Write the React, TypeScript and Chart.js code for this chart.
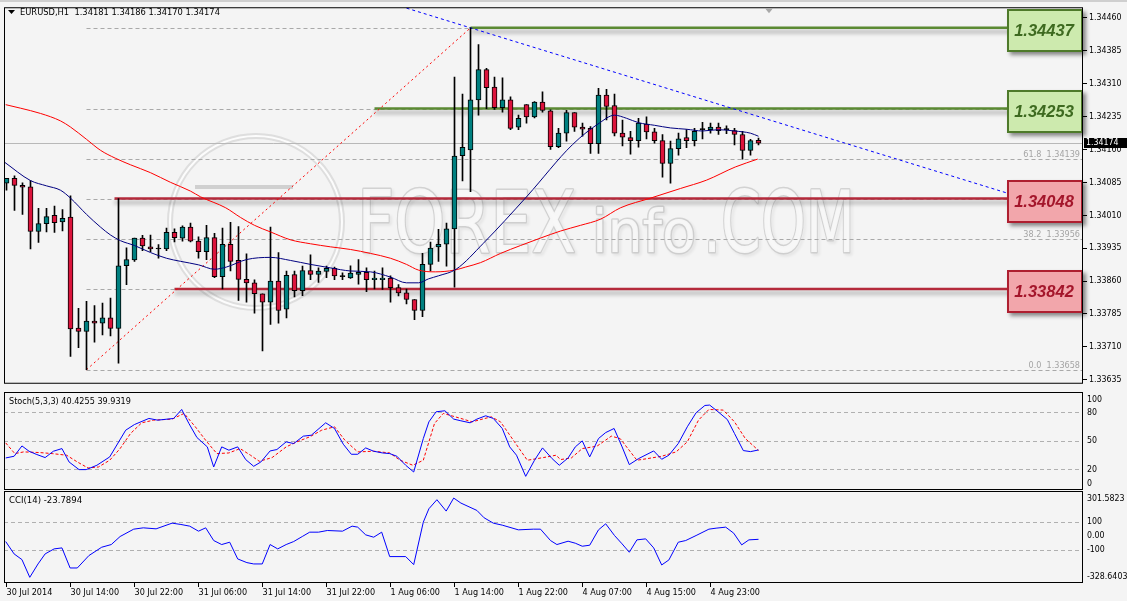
import React, { useEffect, useRef } from 'react';
import { Chart, registerables } from 'chart.js';

Chart.register(...registerables);

// ---------------- data ----------------
const SYMBOL_TITLE = 'EURUSD,H1';
const STOCH_TITLE = 'Stoch(5,3,3) 40.4255 39.9319';
const CCI_TITLE = 'CCI(14) -23.7894';

const OPEN = [
  1.34083, 1.34094, 1.34078, 1.34075, 1.33973, 1.33991, 1.34010, 1.33995, 1.34006, 1.33753,
  1.33745, 1.33769, 1.33764, 1.33776, 1.33752, 1.33895, 1.33908, 1.33958, 1.33938, 1.33933,
  1.33933, 1.33971, 1.33958, 1.33983, 1.33951, 1.33927, 1.33959, 1.33870, 1.33944, 1.33907,
  1.33864, 1.33856, 1.33831, 1.33812, 1.33860, 1.33796, 1.33875, 1.33838, 1.33884, 1.33875,
  1.33882, 1.33889, 1.33870, 1.33867, 1.33875, 1.33880, 1.33863, 1.33863, 1.33867, 1.33845,
  1.33833, 1.33818, 1.33793, 1.33898, 1.33938, 1.33944, 1.33979, 1.34146, 1.34159, 1.34273,
  1.34342, 1.34302, 1.34255, 1.34273, 1.34211, 1.34262, 1.34234, 1.34268, 1.34248, 1.34166,
  1.34197, 1.34244, 1.34211, 1.34208, 1.34173, 1.34284, 1.34260, 1.34197, 1.34187, 1.34180,
  1.34218, 1.34200, 1.34180, 1.34128, 1.34162, 1.34187, 1.34180, 1.34205, 1.34205, 1.34211,
  1.34205, 1.34203, 1.34194, 1.34158, 1.34181,
];
const HIGH = [
  1.34094, 1.34100, 1.34084, 1.34089, 1.34026, 1.34026, 1.34031, 1.34023, 1.34054, 1.33798,
  1.33814, 1.33804, 1.33810, 1.33821, 1.34048, 1.33936, 1.33958, 1.33964, 1.33965, 1.33943,
  1.33981, 1.33979, 1.33986, 1.33992, 1.33961, 1.33987, 1.33969, 1.33981, 1.33994, 1.33984,
  1.33922, 1.33863, 1.33831, 1.33983, 1.33925, 1.33883, 1.33883, 1.33894, 1.33920, 1.33890,
  1.33894, 1.33892, 1.33879, 1.33895, 1.33909, 1.33890, 1.33883, 1.33890, 1.33872, 1.33852,
  1.33842, 1.33818, 1.33923, 1.33949, 1.33978, 1.33992, 1.34325, 1.34286, 1.34437, 1.34399,
  1.34345, 1.34325, 1.34323, 1.34280, 1.34238, 1.34262, 1.34269, 1.34291, 1.34250, 1.34208,
  1.34249, 1.34244, 1.34220, 1.34212, 1.34299, 1.34297, 1.34286, 1.34227, 1.34201, 1.34231,
  1.34234, 1.34208, 1.34194, 1.34179, 1.34197, 1.34205, 1.34208, 1.34222, 1.34220, 1.34220,
  1.34214, 1.34208, 1.34201, 1.34183, 1.34186,
];
const LOW = [
  1.34067, 1.34021, 1.34012, 1.33933, 1.33948, 1.33972, 1.33971, 1.33974, 1.33688, 1.33708,
  1.33658, 1.33721, 1.33737, 1.33735, 1.33673, 1.33852, 1.33905, 1.33929, 1.33927, 1.33912,
  1.33929, 1.33949, 1.33951, 1.33949, 1.33912, 1.33909, 1.33868, 1.33842, 1.33883, 1.33816,
  1.33812, 1.33787, 1.33701, 1.33761, 1.33764, 1.33776, 1.33824, 1.33827, 1.33863, 1.33857,
  1.33868, 1.33863, 1.33863, 1.33866, 1.33853, 1.33836, 1.33842, 1.33841, 1.33812, 1.33826,
  1.33808, 1.33772, 1.33779, 1.33883, 1.33905, 1.33894, 1.33846, 1.34088, 1.34064, 1.34238,
  1.34253, 1.34251, 1.34245, 1.34205, 1.34205, 1.34220, 1.34232, 1.34245, 1.34160, 1.34164,
  1.34179, 1.34201, 1.34190, 1.34151, 1.34151, 1.34227, 1.34191, 1.34168, 1.34149, 1.34165,
  1.34184, 1.34174, 1.34097, 1.34083, 1.34147, 1.34164, 1.34168, 1.34184, 1.34197, 1.34194,
  1.34196, 1.34170, 1.34138, 1.34147, 1.34170,
];
const CLOSE = [
  1.34094, 1.34078, 1.34074, 1.33973, 1.33991, 1.34007, 1.33993, 1.34003, 1.33751, 1.33745,
  1.33769, 1.33764, 1.33776, 1.33752, 1.33895, 1.33909, 1.33958, 1.33940, 1.33933, 1.33933,
  1.33971, 1.33959, 1.33983, 1.33951, 1.33927, 1.33959, 1.33870, 1.33944, 1.33905, 1.33864,
  1.33856, 1.33831, 1.33812, 1.33860, 1.33793, 1.33873, 1.33838, 1.33884, 1.33875, 1.33883,
  1.33889, 1.33872, 1.33870, 1.33878, 1.33880, 1.33863, 1.33867, 1.33867, 1.33845, 1.33833,
  1.33818, 1.33793, 1.33898, 1.33935, 1.33944, 1.33979, 1.34145, 1.34165, 1.34273, 1.34342,
  1.34301, 1.34255, 1.34273, 1.34208, 1.34231, 1.34234, 1.34268, 1.34249, 1.34166, 1.34197,
  1.34244, 1.34211, 1.34206, 1.34173, 1.34284, 1.34258, 1.34197, 1.34188, 1.34180, 1.34220,
  1.34200, 1.34180, 1.34128, 1.34162, 1.34184, 1.34180, 1.34201, 1.34205, 1.34211, 1.34203,
  1.34205, 1.34194, 1.34158, 1.34180, 1.34174,
];

const TIME_TICK_BARS = [0, 8, 16, 24, 32, 40, 48, 56, 64, 72, 80, 88];
const TIME_TICK_LABELS = [
  '30 Jul 2014', '30 Jul 14:00', '30 Jul 22:00', '31 Jul 06:00', '31 Jul 14:00', '31 Jul 22:00',
  '1 Aug 06:00', '1 Aug 14:00', '1 Aug 22:00', '4 Aug 07:00', '4 Aug 15:00', '4 Aug 23:00',
];
const PRICE_TICKS = [
  1.33635, 1.33710, 1.33785, 1.33860, 1.33935, 1.34010, 1.34085, 1.34160, 1.34235, 1.34310, 1.34385, 1.34460,
];

// moving averages (blue = fast, red = slow), read at points along the lines
const MA_FAST_X = [-0.25, 3, 5, 6.75, 8, 10, 11.75, 13, 14.25, 16, 18, 20, 21.75, 24, 26, 27.5, 30, 33, 35.5, 38, 40.5, 43, 45.5, 48, 50, 51.5, 52.75, 54, 56.2, 59.6, 65.1, 70.75, 74.1, 76, 77.5, 79, 81, 83, 85, 87, 89, 91, 93, 94];
const MA_FAST_Y = [1.34131, 1.34089, 1.34077, 1.34067, 1.34049, 1.34012, 1.33983, 1.33965, 1.33952, 1.33941, 1.33925, 1.33912, 1.33905, 1.33897, 1.33887, 1.33892, 1.33909, 1.33914, 1.33907, 1.33898, 1.33890, 1.33883, 1.33881, 1.33869, 1.33856, 1.33856, 1.33865, 1.33872, 1.33887, 1.33946, 1.34054, 1.34171, 1.34220, 1.34238, 1.34231, 1.34221, 1.34215, 1.34209, 1.34206, 1.34202, 1.34205, 1.34202, 1.34197, 1.34190];
const MA_SLOW_X = [-0.1, 1.75, 4.25, 6.75, 8, 10, 11.75, 13.6, 15.5, 18, 20.5, 23, 24.25, 27.4, 29.25, 31, 33, 35.5, 38, 40.5, 43, 45.5, 48, 50, 51.5, 53.6, 56, 57.4, 59.25, 61.75, 64.25, 66.75, 69.25, 71.75, 74.25, 76.75, 80.5, 84.25, 87.5, 91.1, 93.9];
const MA_SLOW_Y = [1.34262, 1.34254, 1.34242, 1.34225, 1.34211, 1.34183, 1.34158, 1.34140, 1.34125, 1.34107, 1.34085, 1.34065, 1.34052, 1.34027, 1.34005, 1.33987, 1.33972, 1.33954, 1.33945, 1.33938, 1.33932, 1.33923, 1.33912, 1.33898, 1.33885, 1.33881, 1.33885, 1.33892, 1.33902, 1.33923, 1.33941, 1.33958, 1.33974, 1.33987, 1.34001, 1.34027, 1.34049, 1.34071, 1.34090, 1.34120, 1.34138];

// stochastic %K (blue) and %D (red dashed)
const STOCH_K_X = [-0.1, 0.95, 1.93, 2.82, 3.71, 4.83, 5.86, 6.93, 7.82, 9.07, 9.96, 11.3, 12.9, 14.9, 16.0, 17.8, 18.9, 20.9, 21.9, 22.8, 23.8, 25.1, 25.9, 26.9, 27.8, 28.9, 29.9, 30.9, 31.8, 32.95, 33.8, 34.96, 35.9, 37.1, 38.1, 39.9, 41.0, 42.1, 43.1, 43.9, 44.9, 45.9, 47.0, 47.9, 48.8, 49.9, 50.9, 52.1, 52.8, 53.7, 54.8, 55.9, 56.8, 57.95, 58.8, 59.9, 60.85, 61.97, 62.9, 63.75, 64.9, 66.0, 67.0, 68.2, 69.1, 70.2, 71.1, 71.97, 72.9, 74.0, 74.9, 75.95, 76.95, 77.85, 79.0, 80.9, 81.9, 82.8, 83.97, 85.1, 86.2, 87.3, 87.9, 88.95, 90.1, 91.0, 92.1, 93.0, 94];
const STOCH_K_Y = [32.0, 33.8, 44.7, 39.1, 35.9, 32.4, 39.1, 41.9, 27.8, 19.7, 19.7, 24.3, 33.1, 61.3, 67.3, 73.7, 71.9, 73.7, 83.2, 68.4, 53.6, 43.7, 22.5, 43.7, 40.2, 43.7, 30.3, 23.2, 27.8, 39.4, 40.9, 49.0, 47.2, 55.0, 56.0, 69.1, 63.1, 46.5, 35.9, 35.9, 42.6, 39.1, 37.3, 36.6, 33.8, 24.3, 17.2, 52.5, 70.1, 80.7, 81.8, 73.0, 71.2, 69.1, 73.0, 76.5, 73.7, 63.1, 43.7, 34.9, 12.6, 29.6, 42.6, 31.3, 24.3, 32.0, 43.7, 50.0, 33.1, 52.5, 58.8, 63.1, 43.7, 25.0, 31.3, 39.4, 30.6, 34.9, 47.2, 64.9, 79.7, 87.4, 87.8, 80.7, 72.6, 57.8, 39.8, 38.7, 40.43];
const STOCH_D_X = [-0.1, 1.04, 2.15, 4.16, 5.72, 7.51, 8.85, 10.2, 11.5, 12.9, 14.2, 15.5, 16.9, 18.4, 20.7, 22.2, 23.6, 25.05, 26.3, 27.8, 29.2, 30.5, 31.6, 33.2, 34.96, 36.3, 37.9, 39.4, 41.0, 42.3, 43.9, 45.9, 47.9, 49.2, 50.8, 52.1, 53.5, 54.6, 56.8, 58.2, 59.3, 60.6, 61.75, 63.5, 65.1, 67.1, 68.7, 69.25, 70.6, 71.97, 73.8, 75.6, 76.7, 78.8, 80.1, 81.9, 83.7, 85.1, 86.5, 87.8, 89.6, 91.0, 92.35, 94];
const STOCH_D_Y = [47.9, 36.6, 38.4, 37.7, 36.6, 34.9, 27.8, 21.4, 22.5, 29.6, 41.9, 57.8, 69.1, 71.9, 73.0, 79.0, 64.9, 49.0, 36.6, 37.3, 41.9, 34.9, 28.5, 32.4, 43.7, 49.0, 54.3, 61.3, 64.9, 50.7, 38.4, 39.1, 37.3, 29.6, 24.3, 29.6, 68.4, 79.0, 73.7, 70.1, 72.6, 75.4, 70.1, 49.0, 29.6, 32.4, 34.9, 30.3, 32.0, 41.9, 44.4, 55.0, 52.5, 29.6, 31.3, 33.8, 38.4, 49.0, 71.9, 83.2, 82.5, 70.1, 52.5, 39.93];
const STOCH_TICKS = [100, 80, 50, 20, 0];
const STOCH_GRID = [80, 50, 20];

// CCI(14)
const CCI_X = [-0.1, 0.95, 1.93, 2.91, 3.94, 4.83, 5.95, 6.93, 7.95, 8.85, 10.3, 11.9, 13.1, 14.2, 15.9, 17.1, 18.7, 20.7, 21.8, 22.9, 24.0, 24.9, 25.9, 26.9, 27.9, 28.9, 30.05, 30.9, 31.97, 32.95, 33.9, 34.96, 35.9, 36.97, 37.9, 39.0, 40.1, 42.0, 43.2, 43.9, 44.9, 45.9, 46.9, 47.9, 49.9, 50.9, 52.1, 52.8, 53.8, 54.96, 55.9, 56.8, 58.8, 59.7, 60.85, 61.97, 63.98, 65.85, 66.75, 68.0, 68.8, 70.2, 71.1, 71.97, 72.9, 74.0, 74.9, 76.0, 76.95, 77.85, 78.8, 79.9, 80.9, 81.9, 82.8, 83.97, 84.9, 86.2, 87.8, 88.7, 89.9, 90.9, 91.9, 92.8, 94];
const CCI_Y = [-39.8, -128.8, -169.7, -297.2, -201, -128.8, -92.7, -85.5, -229.9, -229.9, -140.8, -80.7, -61.4, -3.7, 49.2, 58.8, 51.6, 92.5, 82.9, 70.9, 34.8, 58.8, -32.6, -61.4, -44.6, -164.9, -191.4, -201, -201, -61.4, -92.7, -61.4, -39.8, -3.7, 27.6, 27.6, 39.6, 34.8, 70.9, 63.7, 8.3, -8.5, 27.6, -148, -148, -205.8, 99.7, 196, 261, 179.2, 273, 236.9, 184, 131, 92.5, 78.1, 44.4, 49.2, 49.2, -32.6, -61.4, -37.4, -51.8, -73.5, -66.3, 44.4, 87.7, 3.5, -56.6, -116.8, -27.8, -20.6, -85.5, -208.2, -172.1, -44.6, -32.6, 3.5, 49.2, 56.4, 63.7, 20.4, -63.8, -27.8, -23.79];
const CCI_TICKS = [301.5823, 100, 0, -100, -328.6403];
const CCI_TICK_LABELS = ['301.5823', '100', '0.00', '-100', '-328.6403'];
const CCI_GRID = [100, -100];

// Fibonacci retracement, trend lines, levels
const FIB_PRICES = [1.33658, 1.33842, 1.33956, 1.34048, 1.34139, 1.34253, 1.34437];
const FIB_NAMES = ['0.0', '23.6', '38.2', '50.0', '61.8', '76.4', '100.0'];
const FIB_START_BAR = 10;
const FIB_TREND_BARS = [10, 58];
const FIB_TREND_PRICES = [1.33658, 1.34437];
const TREND_BARS = [50, 125];
const TREND_PRICES = [1.34482, 1.34061];
const LEVEL_PRICES = [1.34437, 1.34253, 1.34048, 1.33842];
const LEVEL_START_BARS = [58, 46, 13.5, 21];
const LEVEL_KIND = ['up', 'up', 'down', 'down'];
const BID = 1.34174;

// ---------------- layout constants ----------------
const W = 1127;
const X_MIN = -0.3125;
const X_MAX = 134.5625;
const BG = '#f4f4f4';

function pickFamily(): string {
  const c = document.createElement('canvas').getContext('2d');
  if (!c) return '"Liberation Sans"';
  const probe = '1.34460 EURUSD Aug';
  c.font = '40px monospace';
  const base = c.measureText(probe).width;
  for (const f of ['Liberation Sans Narrow', 'DejaVu Sans Condensed']) {
    c.font = `40px "${f}", monospace`;
    if (Math.abs(c.measureText(probe).width - base) > 0.5) return `"${f}"`;
  }
  return '"Liberation Sans"';
}

function fitSize(family: string, text: string, target: number): number {
  const c = document.createElement('canvas').getContext('2d');
  if (!c) return 9;
  c.font = `100px ${family}`;
  const w = c.measureText(text).width;
  return Math.round((target * 100 / w) * 4) / 4;
}

function drawWatermark(ctx: CanvasRenderingContext2D) {
  ctx.save();
  ctx.strokeStyle = 'rgba(200,200,200,0.5)';
  ctx.lineWidth = 6;
  ctx.beginPath(); ctx.arc(256, 222, 86, 0, Math.PI * 2); ctx.stroke();
  ctx.strokeStyle = 'rgba(255,255,255,0.9)';
  ctx.lineWidth = 2;
  ctx.beginPath(); ctx.arc(256, 222, 86, 0, Math.PI * 2); ctx.stroke();
  ctx.fillStyle = 'rgba(165,165,165,0.45)';
  ctx.fillRect(195, 185, 98, 4);
  const word = (t: string, x: number, base: number, w: number, size: number) => {
    ctx.save();
    ctx.font = `${size}px "DejaVu Sans"`;
    const m = ctx.measureText(t).width;
    ctx.translate(x, base);
    ctx.scale(w / m, 1);
    ctx.lineJoin = 'round';
    ctx.shadowColor = 'rgba(0,0,0,0.15)';
    ctx.shadowBlur = 3; ctx.shadowOffsetX = 2; ctx.shadowOffsetY = 2;
    ctx.lineWidth = 3;
    ctx.strokeStyle = 'rgba(180,180,180,0.5)';
    ctx.strokeText(t, 0, 0);
    ctx.shadowColor = 'transparent';
    ctx.fillStyle = 'rgba(248,248,248,0.95)';
    ctx.fillText(t, 0, 0);
    ctx.restore();
  };
  word('FOREX', 357, 252, 219, 85);
  word('info', 592, 252, 104, 58);
  word('.COM', 703, 252, 152, 85);
  ctx.restore();
}

function frame(ctx: CanvasRenderingContext2D, a: any) {
  ctx.save();
  ctx.strokeStyle = '#000';
  ctx.lineWidth = 1;
  ctx.strokeRect(a.left + 0.5, a.top + 0.5, a.right - a.left - 1, a.bottom - a.top - 1);
  ctx.restore();
}

export default function App() {
  const priceRef = useRef<HTMLCanvasElement>(null);
  const stochRef = useRef<HTMLCanvasElement>(null);
  const cciRef = useRef<HTMLCanvasElement>(null);

  useEffect(() => {
    document.body.style.margin = '0';
    const fam = pickFamily();
    const n = OPEN.length;
    const header = `${SYMBOL_TITLE}  ${OPEN[n - 1].toFixed(5)} ${HIGH[n - 1].toFixed(5)} ${LOW[n - 1].toFixed(5)} ${CLOSE[n - 1].toFixed(5)}`;
    const axisSize = fitSize(fam, '1.34460', 32.5);
    const axisFont = `${axisSize}px ${fam}`;
    const headerFont = `${fitSize(fam, header, 201)}px ${fam}`;
    const stochFont = `${fitSize(fam, STOCH_TITLE, 122)}px ${fam}`;
    const cciFont = `${fitSize(fam, CCI_TITLE, 73)}px ${fam}`;
    const timeSize = fitSize(fam, TIME_TICK_LABELS[1], 49);
    const fibFont = `${fitSize(fam, '61.8  1.34139', 56.5)}px ${fam}`;
    const bars = OPEN.map((_, i) => i);
    const charts: Chart[] = [];

    const xHidden = { type: 'linear', display: false, min: X_MIN, max: X_MAX, offset: false, grid: { offset: false } };
    const common = {
      responsive: false,
      animation: false,
      devicePixelRatio: 1,
      events: [],
      plugins: { legend: { display: false }, tooltip: { enabled: false } },
    };

    // ---------------- price chart ----------------
    const pricePlugin = {
      id: 'priceDecor',
      beforeDraw(chart: any) {
        const { ctx } = chart;
        ctx.save();
        ctx.fillStyle = BG;
        ctx.fillRect(0, 0, chart.width, chart.height);
        ctx.fillStyle = '#cfcfcf';
        ctx.fillRect(0, 0, chart.width, 2);
        ctx.restore();
      },
      beforeDatasetsDraw(chart: any) {
        const { ctx, chartArea: a, scales } = chart;
        const x = scales.x, y = scales.y;
        drawWatermark(ctx);
        ctx.save();
        const yb = Math.round(y.getPixelForValue(BID)) + 0.5;
        ctx.strokeStyle = '#b8b8b8';
        ctx.lineWidth = 1;
        ctx.beginPath(); ctx.moveTo(a.left, yb); ctx.lineTo(a.right, yb); ctx.stroke();
        const xs = x.getPixelForValue(FIB_START_BAR);
        ctx.setLineDash([4, 3]);
        ctx.strokeStyle = '#a9a9a9';
        FIB_PRICES.forEach((p) => {
          const yy = Math.round(y.getPixelForValue(p)) + 0.5;
          ctx.beginPath(); ctx.moveTo(xs, yy); ctx.lineTo(a.right, yy); ctx.stroke();
        });
        ctx.setLineDash([]);
        ctx.font = fibFont;
        ctx.fillStyle = '#a4a4a4';
        ctx.textAlign = 'right';
        ctx.textBaseline = 'alphabetic';
        FIB_PRICES.forEach((p, k) => {
          const yy = Math.round(y.getPixelForValue(p));
          ctx.fillText(`${FIB_NAMES[k]}  ${p.toFixed(5)}`, a.right - 3, yy - 2);
        });
        ctx.restore();
      },
      beforeDatasetDraw(chart: any, args: any) {
        const ds = chart.data.datasets[args.index];
        if (ds.label === 'level') {
          const ctx = chart.ctx;
          ctx.save();
          ctx.shadowColor = 'rgba(0,0,0,0.35)';
          ctx.shadowBlur = 4;
          ctx.shadowOffsetY = 4;
        }
      },
      afterDatasetDraw(chart: any, args: any) {
        const ds = chart.data.datasets[args.index];
        if (ds.label === 'level') chart.ctx.restore();
      },
      afterDraw(chart: any) {
        const { ctx, chartArea: a, scales } = chart;
        const x = scales.x, y = scales.y;
        ctx.save();
        LEVEL_PRICES.forEach((p, k) => {
          const up = LEVEL_KIND[k] === 'up';
          const yc = y.getPixelForValue(p) + 2.5;
          const bw = 76, bh = 43;
          const bx = a.right - bw, by = Math.round(yc - bh / 2);
          ctx.save();
          ctx.shadowColor = 'rgba(0,0,0,0.45)';
          ctx.shadowBlur = 4; ctx.shadowOffsetX = 3; ctx.shadowOffsetY = 3;
          ctx.fillStyle = up ? '#cdeaae' : '#f2a6ab';
          ctx.fillRect(bx, by, bw, bh);
          ctx.restore();
          ctx.lineWidth = 2;
          ctx.strokeStyle = up ? '#4e7a2a' : '#ae1f30';
          ctx.strokeRect(bx + 1, by + 1, bw - 2, bh - 2);
          ctx.font = 'italic bold 16.5px "Liberation Sans"';
          ctx.fillStyle = up ? '#3e6a20' : '#a4162b';
          ctx.textAlign = 'center';
          ctx.textBaseline = 'middle';
          ctx.fillText(p.toFixed(5), bx + bw / 2 - 1, by + bh / 2 + 1);
        });
        frame(ctx, a);
        ctx.fillStyle = '#000';
        ctx.beginPath(); ctx.moveTo(8, 10); ctx.lineTo(15, 10); ctx.lineTo(11.5, 14); ctx.closePath(); ctx.fill();
        ctx.font = headerFont;
        ctx.textAlign = 'left';
        ctx.textBaseline = 'middle';
        ctx.fillText(header, 20, 13);
        const sx = Math.round(x.getPixelForValue(n - 1 + 1.25));
        ctx.fillStyle = '#a8a8a8';
        ctx.beginPath(); ctx.moveTo(sx - 4, a.top + 1); ctx.lineTo(sx + 4, a.top + 1); ctx.lineTo(sx, a.top + 6); ctx.closePath(); ctx.fill();
        const yb = Math.round(y.getPixelForValue(BID));
        ctx.fillStyle = '#000';
        ctx.fillRect(a.right + 1, yb - 5, chart.width - a.right - 1, 10);
        ctx.fillStyle = '#fff';
        ctx.font = axisFont;
        ctx.fillText(BID.toFixed(5), a.right + 3, yb);
        ctx.restore();
      },
    };

    const levelSets = LEVEL_PRICES.map((p, k) => ({
      type: 'line',
      label: 'level',
      data: [{ x: LEVEL_START_BARS[k], y: p }, { x: X_MAX, y: p }],
      borderColor: LEVEL_KIND[k] === 'up' ? '#5b8a33' : '#b42a3b',
      borderWidth: 2.5,
      pointRadius: 0,
      order: 40,
    }));

    const priceChart = new Chart(priceRef.current as HTMLCanvasElement, {
      type: 'bar',
      data: {
        datasets: [
          ...levelSets,
          {
            type: 'line', label: 'fib trend',
            data: FIB_TREND_BARS.map((b, k) => ({ x: b, y: FIB_TREND_PRICES[k] })),
            borderColor: '#ff0000', borderWidth: 1, borderDash: [2, 3], pointRadius: 0, order: 35,
          },
          {
            type: 'line', label: 'trend',
            data: TREND_BARS.map((b, k) => ({ x: b, y: TREND_PRICES[k] })),
            borderColor: '#0000ff', borderWidth: 1, borderDash: [3, 3], pointRadius: 0, order: 35,
          },
          {
            type: 'bar', label: 'wicks',
            data: bars.map((i) => ({ x: i, y: [LOW[i], HIGH[i]] })),
            backgroundColor: '#000', borderWidth: 0, barThickness: 1, grouped: false, minBarLength: 1, order: 30,
          },
          {
            type: 'bar', label: 'bodies',
            data: bars.map((i) => ({ x: i, y: [Math.min(OPEN[i], CLOSE[i]), Math.max(OPEN[i], CLOSE[i])] })),
            backgroundColor: bars.map((i) => (CLOSE[i] > OPEN[i] ? '#008080' : CLOSE[i] < OPEN[i] ? '#dc143c' : '#000000')),
            borderColor: '#000', borderWidth: 1, borderSkipped: false, barThickness: 5, grouped: false, minBarLength: 1, order: 20,
          },
          {
            type: 'line', label: 'ma slow',
            data: MA_SLOW_X.map((v, k) => ({ x: v, y: MA_SLOW_Y[k] })),
            borderColor: '#ff0000', borderWidth: 1, pointRadius: 0, cubicInterpolationMode: 'monotone', order: 10,
          },
          {
            type: 'line', label: 'ma fast',
            data: MA_FAST_X.map((v, k) => ({ x: v, y: MA_FAST_Y[k] })),
            borderColor: '#000080', borderWidth: 1, pointRadius: 0, cubicInterpolationMode: 'monotone', order: 5,
          },
        ],
      } as any,
      options: {
        ...common,
        layout: { padding: { left: 4, top: 4, right: 0, bottom: 0 } },
        scales: {
          x: xHidden,
          y: {
            type: 'linear', position: 'right', min: 1.33626, max: 1.34484, beginAtZero: false,
            afterFit: (s: any) => { s.width = W - 1083; },
            afterBuildTicks: (s: any) => { s.ticks = PRICE_TICKS.map((v) => ({ value: v })); },
            border: { display: false },
            grid: { drawOnChartArea: false, drawTicks: true, tickLength: 4, tickColor: '#000' },
            ticks: {
              autoSkip: false, padding: 2, color: '#000',
              font: { family: fam, size: axisSize },
              callback: (v: any) => Number(v).toFixed(5),
            },
          },
        },
      } as any,
      plugins: [pricePlugin],
    });
    charts.push(priceChart);

    // ---------------- indicator helpers ----------------
    const indicatorPlugin = (id: string, title: string, titleFont: string, grid: number[], ticks: number[], labels: string[]) => ({
      id,
      beforeDraw(chart: any) {
        const { ctx } = chart;
        ctx.save();
        ctx.fillStyle = BG;
        ctx.fillRect(0, 0, chart.width, chart.height);
        ctx.restore();
      },
      beforeDatasetsDraw(chart: any) {
        const { ctx, chartArea: a, scales } = chart;
        ctx.save();
        ctx.setLineDash([4, 3]);
        ctx.strokeStyle = '#b0b0b0';
        ctx.lineWidth = 1;
        grid.forEach((v) => {
          const yy = Math.round(scales.y.getPixelForValue(v)) + 0.5;
          ctx.beginPath(); ctx.moveTo(a.left, yy); ctx.lineTo(a.right, yy); ctx.stroke();
        });
        ctx.restore();
      },
      afterDraw(chart: any) {
        const { ctx, chartArea: a, scales } = chart;
        frame(ctx, a);
        ctx.save();
        ctx.fillStyle = '#000';
        ctx.textAlign = 'left';
        ctx.textBaseline = 'middle';
        ctx.font = titleFont;
        ctx.fillText(title, 9, a.top + 10);
        ctx.font = axisFont;
        ticks.forEach((v, k) => {
          let yy = scales.y.getPixelForValue(v);
          yy = Math.min(Math.max(yy, a.top + 7.5), a.bottom - 6.5);
          ctx.fillText(labels[k], a.right + 4, yy);
        });
        ctx.restore();
      },
    });

    // ---------------- stochastic ----------------
    const stochChart = new Chart(stochRef.current as HTMLCanvasElement, {
      type: 'line',
      data: {
        datasets: [
          {
            data: STOCH_D_X.map((v, k) => ({ x: v, y: STOCH_D_Y[k] })),
            borderColor: '#ff0000', borderWidth: 1, borderDash: [3, 2], pointRadius: 0, order: 2,
          },
          {
            data: STOCH_K_X.map((v, k) => ({ x: v, y: STOCH_K_Y[k] })),
            borderColor: '#0000ff', borderWidth: 1, pointRadius: 0, order: 1,
          },
        ],
      } as any,
      options: {
        ...common,
        layout: { padding: { left: 4, top: 1, right: W - 1083, bottom: 0 } },
        scales: {
          x: xHidden,
          y: { type: 'linear', display: false, min: -1.8, max: 101.6 },
        },
      } as any,
      plugins: [indicatorPlugin('stochDecor', STOCH_TITLE, stochFont, STOCH_GRID, STOCH_TICKS, STOCH_TICKS.map(String))],
    });
    charts.push(stochChart);

    // ---------------- CCI ----------------
    const cciChart = new Chart(cciRef.current as HTMLCanvasElement, {
      type: 'line',
      data: {
        datasets: [
          {
            data: CCI_X.map((v, k) => ({ x: v, y: CCI_Y[k] })),
            borderColor: '#0000ff', borderWidth: 1, pointRadius: 0,
          },
        ],
      } as any,
      options: {
        ...common,
        layout: { padding: { left: 4, top: 1, right: W - 1083, bottom: 0 } },
        scales: {
          x: {
            type: 'linear', min: X_MIN, max: X_MAX, offset: false,
            afterFit: (s: any) => { s.height = 18; },
            afterBuildTicks: (s: any) => { s.ticks = TIME_TICK_BARS.map((v) => ({ value: v })); },
            border: { display: false },
            grid: { offset: false, drawOnChartArea: false, drawTicks: true, tickLength: 4, tickColor: '#000' },
            ticks: {
              autoSkip: false, maxRotation: 0, minRotation: 0, align: 'start', padding: 0, color: '#000',
              font: { family: fam, size: timeSize },
              callback: (v: any) => {
                const k = TIME_TICK_BARS.indexOf(Number(v));
                return k >= 0 ? TIME_TICK_LABELS[k] : '';
              },
            },
          },
          y: { type: 'linear', display: false, min: -338, max: 323.7 },
        },
      } as any,
      plugins: [indicatorPlugin('cciDecor', CCI_TITLE, cciFont, CCI_GRID, CCI_TICKS, CCI_TICK_LABELS)],
    });
    charts.push(cciChart);

    return () => charts.forEach((c) => c.destroy());
  }, []);

  return (
    <div style={{ position: 'fixed', left: 0, top: 0, width: W, height: 601, background: BG, overflow: 'hidden' }}>
      <canvas ref={priceRef} width={W} height={391} style={{ position: 'absolute', left: 0, top: 0 }} />
      <canvas ref={stochRef} width={W} height={99} style={{ position: 'absolute', left: 0, top: 391 }} />
      <canvas ref={cciRef} width={W} height={111} style={{ position: 'absolute', left: 0, top: 490 }} />
    </div>
  );
}
